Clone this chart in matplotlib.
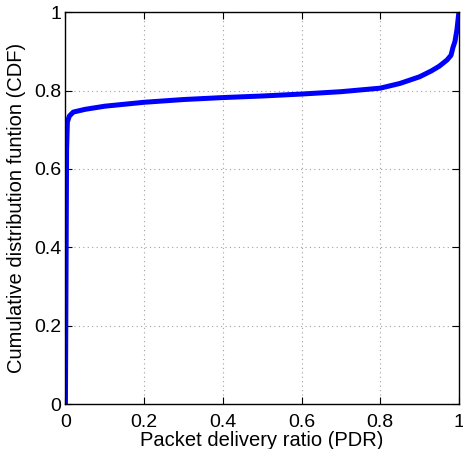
import matplotlib
matplotlib.use("Agg")
import matplotlib.pyplot as plt

# Empirical CDF of packet delivery ratio
pdr = [0.0, 0.003, 0.005, 0.01, 0.02, 0.05, 0.1, 0.2, 0.3, 0.4, 0.5, 0.6,
       0.7, 0.8, 0.85, 0.9, 0.93, 0.95, 0.97, 0.98, 0.985, 0.99, 0.995, 1.0]
cdf = [0.0, 0.65, 0.72, 0.735, 0.745, 0.752, 0.76, 0.77, 0.777, 0.782, 0.786, 0.791,
       0.797, 0.806, 0.818, 0.835, 0.85, 0.862, 0.878, 0.89, 0.91, 0.925, 0.955, 1.0]

ticks = [0, 0.2, 0.4, 0.6, 0.8, 1]
tick_labels = ["0", "0.2", "0.4", "0.6", "0.8", "1"]

plt.rcParams['font.family'] = ['Liberation Sans', 'DejaVu Sans']

fig = plt.figure(figsize=(4.64, 4.49), dpi=100)
ax = fig.add_axes([0.141, 0.100, 0.848, 0.873])

ax.plot(pdr, cdf, color='#0000ff', linewidth=3.6, solid_capstyle='butt')

ax.set_xlim(0, 1)
ax.set_ylim(0, 1)
ax.set_xticks(ticks)
ax.set_xticklabels(tick_labels)
ax.set_yticks(ticks)
ax.set_yticklabels(tick_labels)
ax.tick_params(direction='in', length=5, width=0.8, labelsize=14,
               top=True, right=True)
ax.tick_params(axis='x', pad=7)
ax.tick_params(axis='y', pad=3)
ax.grid(True, color='#a0a0a0', linestyle=(0, (1, 3)), linewidth=0.8)
for s in ax.spines.values():
    s.set_linewidth(1.0)

ax.set_xlabel('Packet delivery ratio (PDR)', fontsize=14.5, labelpad=0)
ax.set_ylabel('Cumulative distribution funtion (CDF)', fontsize=14.5, labelpad=6)

fig.savefig('out.png', dpi=100)
